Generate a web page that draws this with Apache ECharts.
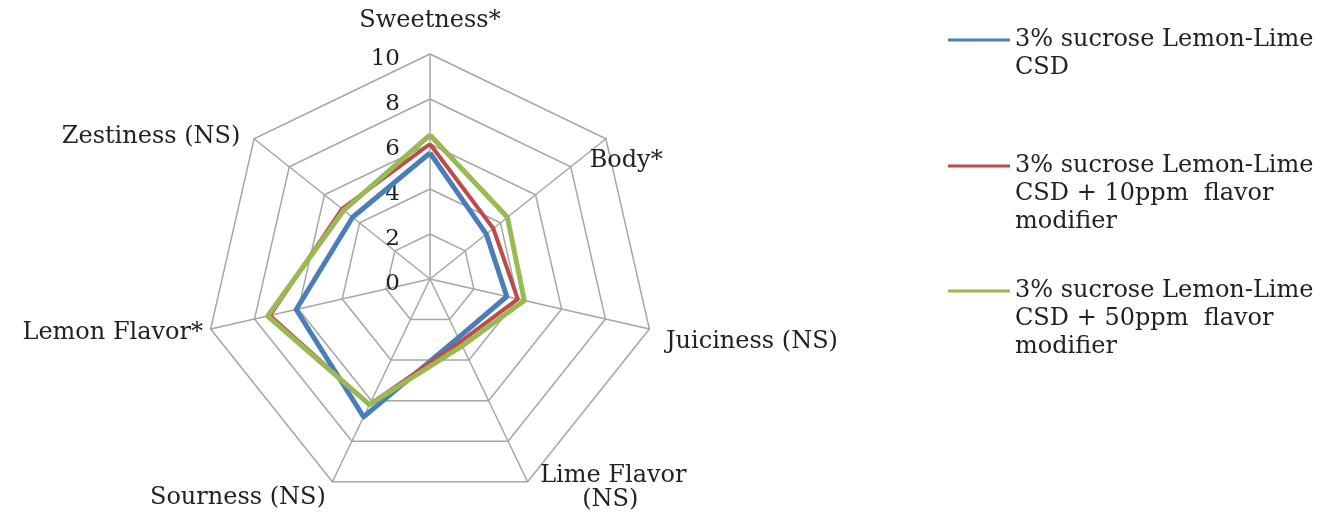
<!DOCTYPE html>
<html>
<head>
<meta charset="utf-8">
<script src="https://cdn.jsdelivr.net/npm/echarts@6/dist/echarts.min.js"></script>
<style>
  html, body { margin: 0; padding: 0; background: #fff; }
  #chart { width: 1322px; height: 529px; }
</style>
</head>
<body>
<div id="chart"></div>
<script>
// attributes, clockwise from the top
var attributes = ['Sweetness*', 'Body*', 'Juiciness (NS)', 'Lime Flavor\n(NS)', 'Sourness (NS)', 'Lemon Flavor*', 'Zestiness (NS)'];
var seriesNames = [
    '3% sucrose Lemon-Lime\nCSD',
    '3% sucrose Lemon-Lime\nCSD + 10ppm  flavor\nmodifier',
    '3% sucrose Lemon-Lime\nCSD + 50ppm  flavor\nmodifier'
];
var base = [5.6, 3.2, 3.5, 2.9, 6.8, 6.1, 4.4];
var mod10 = [6.0, 3.6, 4.0, 3.1, 6.2, 7.3, 5.0];
var mod50 = [6.4, 4.4, 4.3, 3.3, 6.2, 7.4, 4.9];
var scaleMax = 10;

var colors = ['#4a7ebb', '#be4b48', '#98b954'];
var lineWidths = [5, 4, 5];
var textFont = 'DejaVu Serif';

// excel puts the axis names a bit off the spoke ends, nudge them with padding
// [top, right, bottom, left], same order as attributes
var namePads = [
    [0, 0, 6, 0],
    [62, 0, 0, -28],
    [18, 0, 0, 2],
    [0, 0, 0, 6],
    [6, 0, 0, 0],
    [0, -7, 0, 0],
    [14, 2, 0, 0]
];

// echarts lays indicators out counter-clockwise, so flip everything after the first
function ccw(arr) {
    return [arr[0]].concat(arr.slice(1).reverse());
}

var rich = {};
attributes.forEach(function (a, i) {
    rich['n' + i] = { fontFamily: textFont, fontSize: 24, color: '#222', padding: namePads[i] };
    // second line of a two-line name, centred under the first
    rich['c' + i] = { fontFamily: textFont, fontSize: 24, color: '#222', align: 'center', padding: [0, 0, 14, 0] };
});

var indicators = ccw(attributes).map(function (name, i) {
    var ind = { name: name, min: 0, max: scaleMax };
    if (i === 0) {
        ind.axisLabel = { show: true };
    }
    return ind;
});

var chart = echarts.init(document.getElementById('chart'));

var legendTops = [-2, 96, 221];
var legends = seriesNames.map(function (name, i) {
    var lines = name.split('\n').length;
    return {
        data: [name],
        orient: 'vertical',
        left: 948,
        top: legendTops[i],
        padding: 0,
        icon: 'rect',
        itemWidth: 62,
        itemHeight: 3,
        selectedMode: false,
        // blank lines on top so the icon lines up with the first text line
        formatter: function (n) {
            return new Array(lines).join('\n') + n;
        },
        textStyle: {
            fontFamily: textFont,
            fontSize: 24,
            lineHeight: 28,
            color: '#222'
        }
    };
});

var option = {
    animation: false,
    backgroundColor: '#fff',
    color: colors,
    legend: legends,
    radar: {
        center: [430, 279],
        radius: 225,
        startAngle: 90,
        splitNumber: 5,
        shape: 'polygon',
        indicator: indicators,
        axisName: {
            color: '#222',
            fontFamily: textFont,
            fontSize: 24,
            rich: rich,
            formatter: function (name) {
                var i = attributes.indexOf(name);
                var parts = name.split('\n');
                if (parts.length > 1) {
                    return '{n' + i + '|' + parts[0] + '}\n{c' + i + '|' + parts[1] + '}';
                }
                return '{n' + i + '|' + name + '}';
            }
        },
        nameGap: 15,
        axisLine: { lineStyle: { color: '#a6a6a6', width: 1.5 } },
        splitLine: { lineStyle: { color: '#a6a6a6', width: 1.5 } },
        splitArea: { show: false },
        axisTick: { show: false },
        axisLabel: {
            show: false,
            margin: 30,
            formatter: '{t|{value}}',
            rich: {
                t: { color: '#222', fontFamily: textFont, fontSize: 23, padding: [10, 0, 0, 0] }
            }
        }
    },
    series: [
        {
            type: 'radar',
            symbol: 'none',
            data: [
                { name: seriesNames[0], value: ccw(base), lineStyle: { width: lineWidths[0] } },
                { name: seriesNames[1], value: ccw(mod10), lineStyle: { width: lineWidths[1] } },
                { name: seriesNames[2], value: ccw(mod50), lineStyle: { width: lineWidths[2] } }
            ]
        }
    ]
};

chart.setOption(option);
</script>
</body>
</html>
